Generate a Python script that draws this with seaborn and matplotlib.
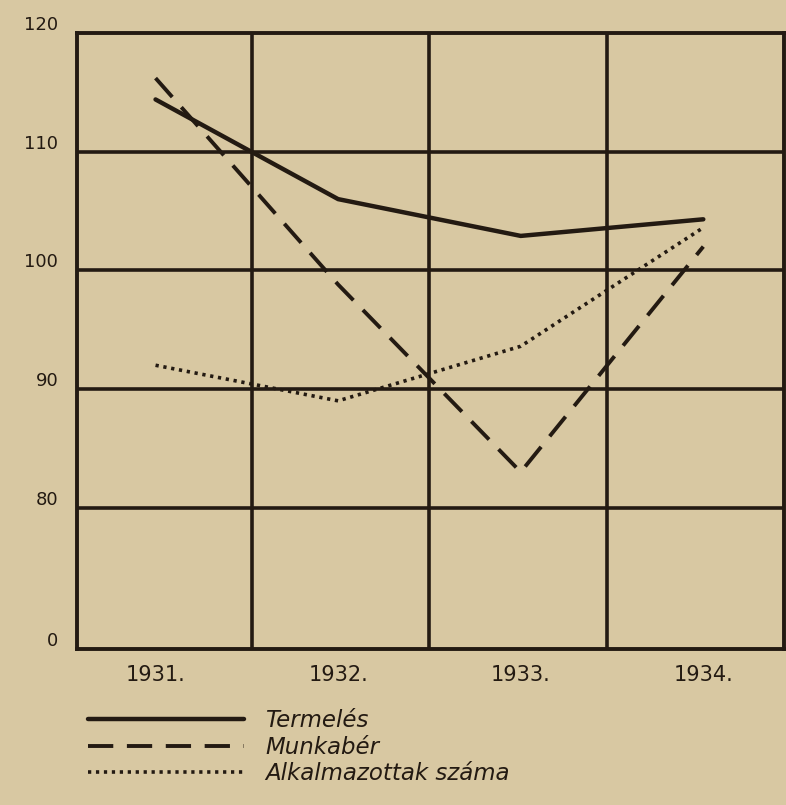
import matplotlib
matplotlib.use("Agg")
import matplotlib.pyplot as plt
import matplotlib.transforms as mtransforms
import seaborn as sns
import pandas as pd

# data (index values)
years = ["1931.", "1932.", "1933.", "1934."]
termeles = [114.4, 106.0, 102.9, 104.3]
munkaber = [116.2, 98.8, 83.0, 102.0]
alkalmazottak = [92.0, 89.0, 93.6, 103.6]

ytick_vals = [68.1, 80, 90, 100, 110, 120]
ytick_labels = ["0", "80", "90", "100", "110", "120"]

paper = "#d8c8a2"
ink = "#231a12"

sns.set_theme(style="white")
plt.rcParams["font.family"] = ["DejaVu Sans"]

fig = plt.figure(figsize=(7.86, 8.05), dpi=100, facecolor=paper)
ax = fig.add_axes([0.098, 0.194, 0.899, 0.765], facecolor=paper)

x = list(range(len(years)))
df = pd.DataFrame({"x": x, "Termelés": termeles, "Munkabér": munkaber,
                   "Alkalmazottak száma": alkalmazottak})

sns.lineplot(data=df, x="x", y="Termelés", ax=ax, color=ink, lw=3.2,
             label="Termelés")
sns.lineplot(data=df, x="x", y="Munkabér", ax=ax, color=ink, lw=2.8,
             dashes=False, label="Munkabér")
sns.lineplot(data=df, x="x", y="Alkalmazottak száma", ax=ax, color=ink,
             lw=2.6, dashes=False, label="Alkalmazottak száma")
lines = ax.get_lines()
lines[1].set_dashes((6.5, 3.5))
lines[2].set_dashes((0.9, 1.3))

# grid
for v in [80, 90, 100, 110]:
    ax.axhline(v, color=ink, lw=2.6, zorder=0)
for v in [0.53, 1.5, 2.47]:
    ax.axvline(v, color=ink, lw=2.6, zorder=0)

ax.set_xlim(-0.43, 3.44)
ax.set_ylim(68.1, 120)
for s in ax.spines.values():
    s.set_color(ink)
    s.set_linewidth(2.8)

ax.set_xticks(x)
ax.set_xticklabels(years, fontsize=15, color=ink)
ax.set_yticks(ytick_vals)
ax.set_yticklabels(ytick_labels, fontsize=13, color=ink)
ax.tick_params(length=0, pad=12)
ax.set_xlabel("")
ax.set_ylabel("")

# hand-lettered labels sit a bit above the grid lines
offset = mtransforms.ScaledTranslation(-0.02, 0.1, fig.dpi_scale_trans)
for lab in ax.get_yticklabels():
    lab.set_transform(lab.get_transform() + offset)

ax.legend(loc="upper left", bbox_to_anchor=(-0.013, -0.065), frameon=False,
          handlelength=6.8, handletextpad=0.9, labelspacing=0.15,
          prop={"size": 16.5, "style": "italic"}, labelcolor=ink)

fig.savefig("out.png", dpi=100, facecolor=paper)
